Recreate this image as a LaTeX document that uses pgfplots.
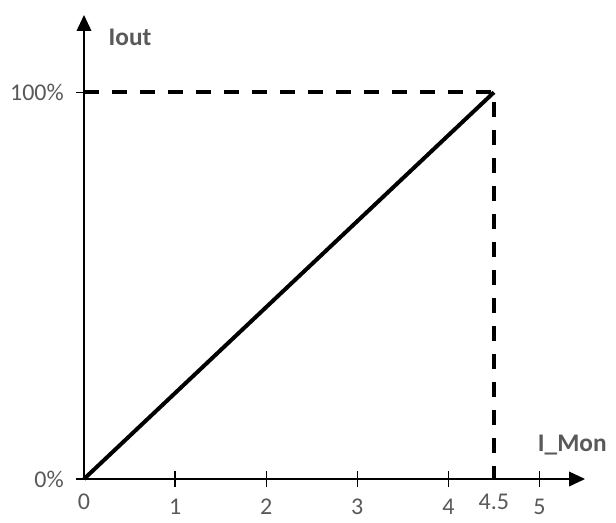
\documentclass[border=0pt]{standalone}
\usepackage{fontspec}
\setmainfont{Carlito}
\usepackage{pgfplots}
\pgfplotsset{compat=1.18}
\usetikzlibrary{arrows.meta}
\definecolor{lblgray}{HTML}{595959}
\begin{document}
\begin{tikzpicture}
\path[use as bounding box] (-63pt,-32.25pt) rectangle (399pt,359.25pt);
\begin{axis}[
  scale only axis,
  width=375.75pt, height=348pt,
  xmin=0, xmax=5.5, ymin=0, ymax=120,
  axis x line=bottom, axis y line=left,
  axis line style={line width=1.2pt, -{Triangle[length=12pt,width=11pt]}},
  tick align=center,
  major tick length=12pt,
  tick style={line width=1pt, black},
  xtick={1,2,3,4,5},
  extra x ticks={0,4.5},
  extra x tick style={major tick length=0pt, xticklabel style={yshift=-2pt}},
  ytick={0,100},
  yticklabels={0\%,100\%},
  /pgf/number format/assume math mode=true,
  ticklabel style={font=\fontsize{18}{21}\selectfont, text=lblgray, inner sep=1pt},
  xticklabel style={yshift=-8pt},
  yticklabel style={xshift=-8pt},
  clip=false,
]
\addplot[black, line width=3pt] coordinates {(0,0) (4.5,100)};
\addplot[black, line width=3pt, dash pattern=on 11pt off 10pt] coordinates {(0,100) (4.5,100) (4.5,0)};
\node[text=lblgray, font=\bfseries\fontsize{19}{22}\selectfont] at (axis cs:0.505,114.2) {Iout};
\node[text=lblgray, font=\bfseries\fontsize{19}{22}\selectfont] at (axis cs:5.36,8.8) {I\_Mon};
\end{axis}
\end{tikzpicture}
\end{document}
